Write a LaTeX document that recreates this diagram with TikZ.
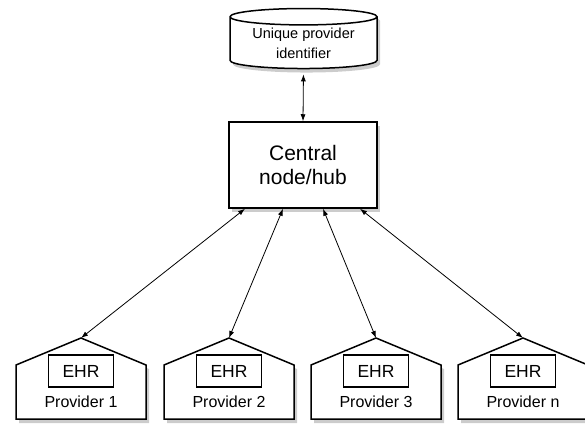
\documentclass[tikz,border=0pt]{standalone}
\usepackage{fontspec}
\setmainfont{Liberation Sans}
\usetikzlibrary{positioning, arrows.meta, shapes.geometric, shadows}

\begin{document}
\begin{tikzpicture}[
    x=1pt, y=-1pt,
    >={Latex[length=7pt, width=5pt]},
    link/.style={<->, line width=0.8pt},
    shade/.style={drop shadow={opacity=0.4, shadow xshift=3pt, shadow yshift=-4pt}},
    store/.style={cylinder, shape border rotate=90, aspect=0.16, draw, line width=1.5pt, fill=white,
        minimum width=147pt, minimum height=60pt, inner sep=0pt, align=center,
        font=\fontsize{14.5}{20}\selectfont, shade},
    hubbox/.style={draw, line width=1.5pt, fill=white, minimum width=148pt, minimum height=86pt,
        align=center, font=\fontsize{21}{23.5}\selectfont, shade},
    house/.style={draw, line width=1.5pt, fill=white, line join=miter, shade},
    ehrbox/.style={draw, line width=1.2pt, minimum width=65pt, minimum height=32pt,
        font=\fontsize{17.5}{20}\selectfont},
    provlabel/.style={anchor=base, font=\fontsize{16}{18}\selectfont}
]
\useasboundingbox (0,0) rectangle (585,428);

% Identifier store and central hub
\node[store] (uid) at (303.5,43) {Unique provider\\identifier};
\node[hubbox] (hub) at (303,165) {Central\\node/hub};
\draw[link, shorten <=5pt] (uid.south) -- (hub.north);

% Providers
\foreach \i/\cx/\name in {1/81/Provider 1, 2/229/Provider 2, 3/376/Provider 3, 4/523/Provider n} {
    \draw[house] (\cx-65,419) -- (\cx-65,365) -- (\cx,338) coordinate (top\i)
        -- (\cx+65,365) -- (\cx+65,419) -- cycle;
    \node[ehrbox] (ehr\i) at (\cx,371) {EHR};
    \node[provlabel] (prov\i) at (\cx,407) {\name};
}

% Links from hub to providers
\foreach \i/\dx in {1/-58, 2/-20, 3/20, 4/57}
    \draw[link] ([xshift=\dx pt]hub.south) -- (top\i);

\end{tikzpicture}
\end{document}
